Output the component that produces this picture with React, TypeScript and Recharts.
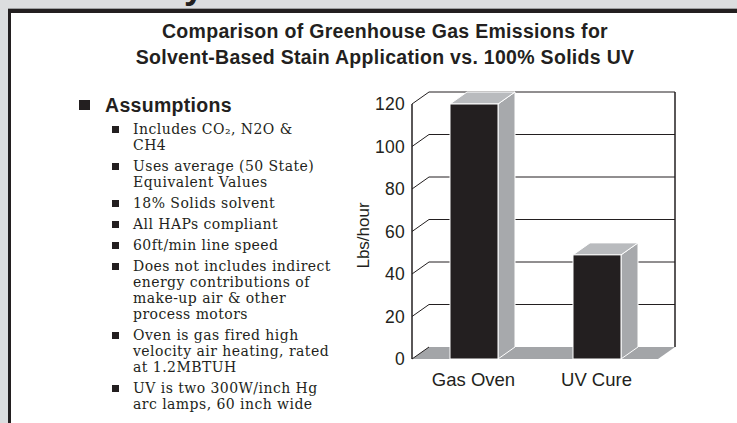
import * as React from "react"
import { BarChart, Bar, XAxis, YAxis, CartesianGrid, Label } from "recharts"

// ── chart data ────────────────────────────────────────────────
const categories = ["Gas Oven", "UV Cure"]
const emissions = [120, 49] // Lbs/hour
const yTicks = [0, 20, 40, 60, 80, 100, 120]

const titleLines = [
  "Comparison of Greenhouse Gas Emissions for",
  "Solvent-Based Stain Application vs. 100% Solids UV",
]

const assumptions: string[][] = [
  ["Includes CO₂, N2O &", "CH4"],
  ["Uses average (50 State)", "Equivalent Values"],
  ["18% Solids solvent"],
  ["All HAPs compliant"],
  ["60ft/min line speed"],
  ["Does not includes indirect", "energy contributions of", "make-up air & other", "process motors"],
  ["Oven is gas fired high", "velocity air heating, rated", "at 1.2MBTUH"],
  ["UV is two 300W/inch Hg", "arc lamps, 60 inch wide"],
]

const data = categories.map((name, i) => ({ name, value: emissions[i] }))

// ── styles ───────────────────────────────────────────────────
const INK = "#231f20"
const FACE_SIDE = "#a7a9ac"
const FACE_TOP = "#b9bbbe"
const FLOOR = "#a3a5a8"
const DX = 17 // 3D depth offset
const DY = 12
const SANS = "'Liberation Sans', Arial, sans-serif"
const SERIF = "'DejaVu Serif', serif"

// 3D bar: front face, right side, top
function Bar3D(props: any) {
  const { x, y, width, height } = props
  if (height == null || width == null) return null
  const r = x + width
  const b = y + height
  return (
    <g>
      <polygon
        points={`${r},${y} ${r + DX},${y - DY} ${r + DX},${b - DY} ${r},${b}`}
        fill={FACE_SIDE} stroke="#fff" strokeWidth={1}
      />
      <polygon
        points={`${x},${y} ${r},${y} ${r + DX},${y - DY} ${x + DX},${y - DY}`}
        fill={FACE_TOP} stroke="#fff" strokeWidth={1}
      />
      <rect x={x} y={y} width={width} height={height} fill={INK} stroke="#fff" strokeWidth={1} />
    </g>
  )
}

// back-wall grid lines, floor and right wall
function BackGridLine(props: any) {
  const { x1, y1, x2, index, x, y, width, height } = props
  const bottom = y + height
  const isBottom = Math.abs(y1 - bottom) < 0.5
  return (
    <g key={`g-${index}`}>
      {index === 0 && (
        <>
          <polygon
            points={`${x},${bottom} ${x + width},${bottom} ${x + width + DX},${bottom - DY} ${x + DX},${bottom - DY}`}
            fill={FLOOR}
          />
          <line
            x1={x + width + DX} y1={y - DY} x2={x + width + DX} y2={bottom - DY}
            stroke={INK} strokeWidth={1.5}
          />
        </>
      )}
      {!isBottom && (
        <line x1={x1 + DX} y1={y1 - DY} x2={x2 + DX} y2={y1 - DY} stroke={INK} strokeWidth={1} />
      )}
    </g>
  )
}

function YTick(props: any) {
  const { x, y, payload } = props
  return (
    <g>
      <line x1={x} y1={y} x2={x + DX} y2={y - DY} stroke={INK} strokeWidth={1} />
      <text
        x={x - 7} y={y} dy="0.36em" textAnchor="end"
        fontFamily={SANS} fontSize={17.5} fill={INK} letterSpacing={0.3}
      >
        {payload.value}
      </text>
    </g>
  )
}

function XTick(props: any) {
  const { x, y, payload } = props
  return (
    <text
      x={x} y={y + 27} textAnchor="middle"
      fontFamily={SANS} fontSize={18.5} fill={INK}
    >
      {payload.value}
    </text>
  )
}

function YLabel(props: any) {
  const { x, y, height } = props.viewBox
  const cx = x + 11
  const cy = y + height / 2 + 4
  return (
    <text
      x={cx} y={cy} dy="0.36em" textAnchor="middle"
      transform={`rotate(-90 ${cx} ${cy})`}
      fontFamily={SANS} fontSize={17} fill={INK}
    >
      Lbs/hour
    </text>
  )
}

export default function App() {
  return (
    <div style={{
      position: "fixed", left: 0, top: 0, width: 737, height: 423,
      background: "#dcdddf", overflow: "hidden", fontFamily: SANS, color: INK,
    }}>
      {/* tail of a heading letter cut off above the panel */}
      <span style={{
        position: "absolute", left: 184, top: -32, fontSize: 36, lineHeight: "36px",
        fontWeight: 700, color: INK,
      }}>y</span>

      <div style={{ position: "absolute", left: 8, top: 8, width: 760, height: 1, background: "#9d9ea0" }} />
      <div style={{
        position: "absolute", left: 8, top: 9, width: 760, height: 430,
        background: "#fff", borderTop: `4px solid ${INK}`, borderLeft: `3px solid ${INK}`,
      }} />

      {/* title */}
      <div style={{
        position: "absolute", left: 0, top: 19, width: 770, textAlign: "center",
        fontWeight: 700, fontSize: 19.5, lineHeight: "25.5px", letterSpacing: 0.3,
      }}>
        {titleLines.map((t) => <div key={t}>{t}</div>)}
      </div>

      {/* assumptions list */}
      <div style={{ position: "absolute", left: 79, top: 100, width: 11, height: 10, background: INK }} />
      <div style={{
        position: "absolute", left: 105, top: 95, fontWeight: 700, fontSize: 19.5,
        lineHeight: "20px", letterSpacing: 0.3,
      }}>
        Assumptions
      </div>
      <div style={{ position: "absolute", left: 112, top: 121 }}>
        {assumptions.map((lines, i) => (
          <div key={i} style={{ position: "relative", marginBottom: 5 }}>
            <div style={{ position: "absolute", left: 0, top: 5, width: 7, height: 7, background: INK }} />
            <div style={{
              marginLeft: 21, fontFamily: SERIF, fontSize: 14, lineHeight: "16px",
              letterSpacing: 0.45, whiteSpace: "nowrap", color: INK,
            }}>
              {lines.map((l) => <div key={l}>{l}</div>)}
            </div>
          </div>
        ))}
      </div>

      {/* chart */}
      <div style={{ position: "absolute", left: 340, top: 80 }}>
        <BarChart
          width={380}
          height={330}
          data={data}
          margin={{ top: 24, right: 62, bottom: 21, left: 12 }}
        >
          <CartesianGrid vertical={false} horizontal={BackGridLine} />
          <XAxis
            dataKey="name"
            axisLine={false}
            tickLine={false}
            tickSize={0}
            tickMargin={0}
            height={30}
            tick={XTick}
            interval={0}
          />
          <YAxis
            domain={[0, 120]}
            ticks={yTicks}
            width={60}
            axisLine={{ stroke: INK, strokeWidth: 1.5 }}
            tickLine={false}
            tickSize={0}
            tickMargin={0}
            tick={YTick}
            interval={0}
          >
            <Label content={YLabel} />
          </YAxis>
          <Bar dataKey="value" barSize={48} shape={Bar3D} isAnimationActive={false} />
        </BarChart>
      </div>
    </div>
  )
}
